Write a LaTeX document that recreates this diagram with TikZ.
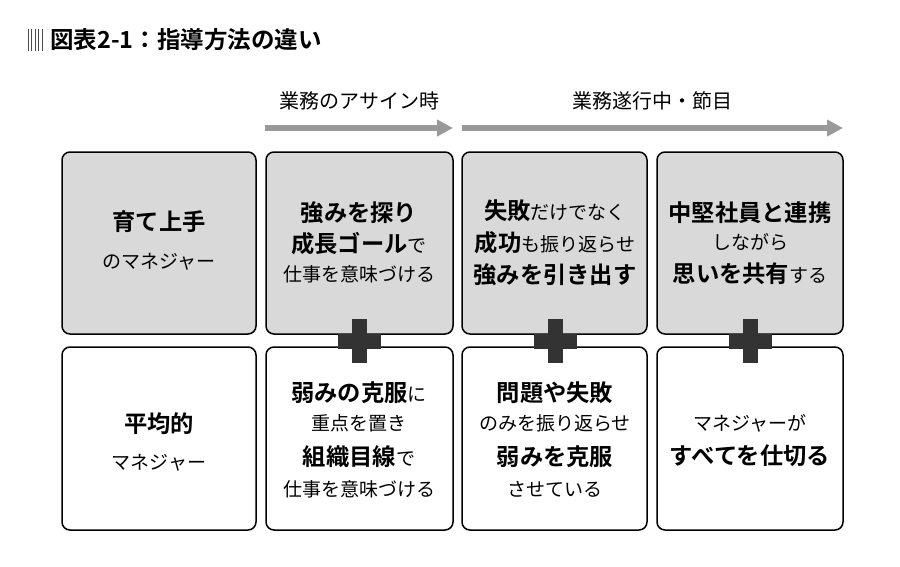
\documentclass[tikz,border=0pt]{standalone}
\usepackage{fontspec}
\setmainfont{Noto Sans CJK JP}[BoldFont={Noto Sans CJK JP Bold}]
\usetikzlibrary{arrows.meta}
\definecolor{boxgray}{HTML}{D9D9D9}
\definecolor{plusc}{HTML}{333333}
\definecolor{arrc}{HTML}{999999}
\newcommand{\txB}[1]{{\fontsize{23.3}{27}\selectfont\bfseries #1}}
\newcommand{\txS}[1]{{\fontsize{19}{22}\selectfont #1}}
\begin{document}
\begin{tikzpicture}[x=1pt,y=-1pt,
  cell/.style={draw=black,line width=1.5pt,rounded corners=8pt},
  ln/.style={inner sep=0pt,anchor=center},
  arr/.style={arrc,line width=6pt,-{Triangle[length=16pt,width=16pt]}}]
\useasboundingbox (0,0) rectangle (900,566);
% title
\foreach \i in {0,1,2,3,4} \draw[black!70,line width=0.9pt] (28+\i*3.5,29) -- (28+\i*3.5,51);
\node[ln,anchor=west] (title) at (50,40) {\fontsize{23.5}{28}\selectfont\bfseries 図表2-1：指導方法の違い};
% arrows
\coordinate (a1s) at (265,128); \coordinate (a1e) at (453,128);
\coordinate (a2s) at (462,128); \coordinate (a2e) at (843,128);
\draw[arr] (a1s) -- (a1e);
\draw[arr] (a2s) -- (a2e);
\node[ln] (l1) at (359,101) {\fontsize{20}{24}\selectfont 業務のアサイン時};
\node[ln] (l2) at (652,101) {\fontsize{20}{24}\selectfont 業務遂行中・節目};
% boxes
\foreach \x/\w [count=\k] in {62/194,266/187,462/185,657/186}{
  \draw[cell,fill=boxgray] (\x,152) rectangle ++(\w,182);
  \draw[cell,fill=white] (\x,347) rectangle ++(\w,183);
}
% plus signs
\foreach \cx in {359.5,555,750}{
  \fill[plusc] (\cx-7.5,319) rectangle (\cx+7.5,363);
  \fill[plusc] (\cx-21.5,334) rectangle (\cx+21.5,349);
}
% column 1
\node[ln] (t11) at (159,222) {\txB{育て上手}};
\node[ln] (t12) at (159,262) {\txS{のマネジャー}};
\node[ln] (b11) at (159,424) {\txB{平均的}};
\node[ln] (b12) at (159,463) {\txS{マネジャー}};
% column 2
\node[ln] (t21) at (359,213) {\txB{強みを探り}};
\node[ln] (t22) at (359,244) {\txB{成長ゴール}\txS{で}};
\node[ln] (t23) at (359,274) {\txS{仕事を意味づける}};
\node[ln] (b21) at (359,393) {\txB{弱みの克服}\txS{に}};
\node[ln] (b22) at (359,423) {\txS{重点を置き}};
\node[ln] (b23) at (359,457) {\txB{組織目線}\txS{で}};
\node[ln] (b24) at (359,489) {\txS{仕事を意味づける}};
% column 3
\node[ln] (t31) at (555,211) {\txB{失敗}\txS{だけでなく}};
\node[ln] (t32) at (555,243) {\txB{成功}\txS{も振り返らせ}};
\node[ln] (t33) at (555,275) {\txB{強みを引き出す}};
\node[ln] (b31) at (555,393) {\txB{問題や失敗}};
\node[ln] (b32) at (555,423) {\txS{のみを振り返らせ}};
\node[ln] (b33) at (555,457) {\txB{弱みを克服}};
\node[ln] (b34) at (555,489) {\txS{させている}};
% column 4
\node[ln] (t41) at (750,213) {\txB{中堅社員と連携}};
\node[ln] (t42) at (750,242) {\txS{しながら}};
\node[ln] (t43) at (750,274) {\txB{思いを共有}\txS{する}};
\node[ln] (b41) at (750,423) {\txS{マネジャーが}};
\node[ln] (b42) at (750,456) {\txB{すべてを仕切る}};
\end{tikzpicture}
\end{document}
